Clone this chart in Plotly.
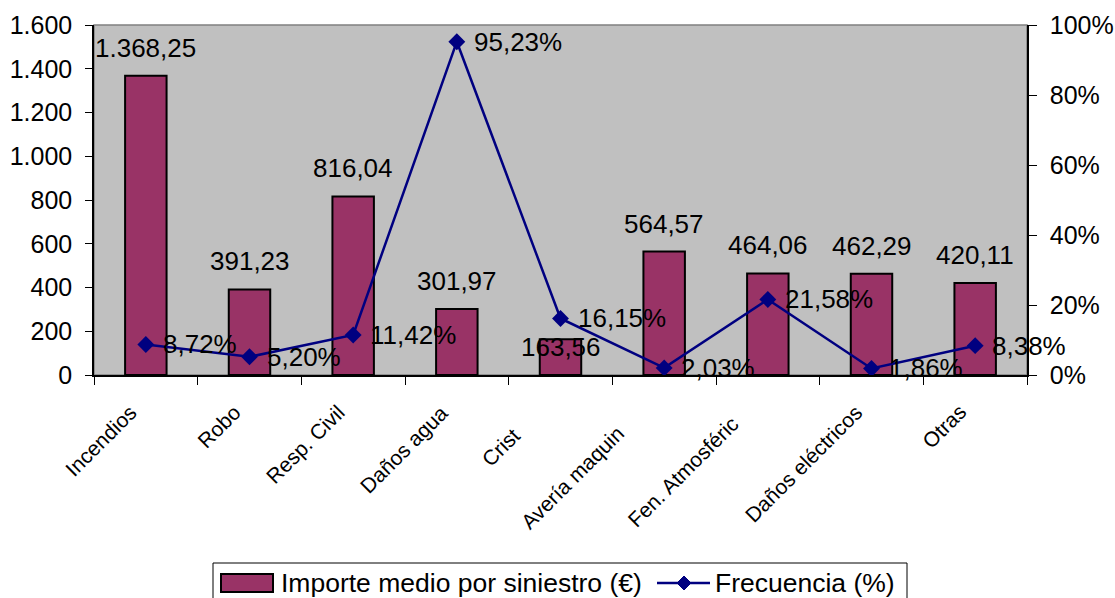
import plotly.graph_objects as go

# Average claim cost and frequency by coverage type
categories = ["Incendios", "Robo", "Resp. Civil", "Daños agua", "Crist",
              "Avería maquin", "Fen. Atmosféric", "Daños eléctricos", "Otras"]
importe_medio = [1368.25, 391.23, 816.04, 301.97, 163.56, 564.57, 464.06, 462.29, 420.11]
frecuencia = [8.72, 5.20, 11.42, 95.23, 16.15, 2.03, 21.58, 1.86, 8.38]

left_ticks = [0, 200, 400, 600, 800, 1000, 1200, 1400, 1600]
right_ticks = [0, 20, 40, 60, 80, 100]
right_tick_labels = ["0%", "20%", "40%", "60%", "80%", "100%"]

series_names = ["Importe medio por siniestro (€)", "Frecuencia (%)"]

BAR_COLOR = "#993366"
LINE_COLOR = "#000080"
FONT = "Liberation Sans, Arial, sans-serif"

W, H = 1115, 598
L, R, T, B = 94, 88, 25, 223
PW, PH = W - L - R, H - T - B


def es_number(v):
    s = f"{v:,.2f}"
    return s.replace(",", "X").replace(".", ",").replace("X", ".")


def es_percent(v):
    return f"{v:.2f}".replace(".", ",") + "%"


def px_x(px):
    return (px - L) / PW


def px_y(py):
    return (H - B - py) / PH


fig = go.Figure()

fig.add_trace(go.Bar(
    x=categories, y=importe_medio, name=series_names[0],
    marker=dict(color=BAR_COLOR, line=dict(color="black", width=2)),
    hoverinfo="skip", showlegend=False,
))

fig.add_trace(go.Scatter(
    x=categories, y=frecuencia, name=series_names[1], yaxis="y2",
    mode="lines+markers",
    line=dict(color=LINE_COLOR, width=2.5),
    marker=dict(symbol="diamond", size=13, color=LINE_COLOR),
    hoverinfo="skip", showlegend=False, cliponaxis=False,
))

annotations = []

# value labels above the bars (one label is placed lower, over its bar)
bar_label_shift = {"Crist": -8}
for c, v in zip(categories, importe_medio):
    annotations.append(dict(
        x=c, y=v, xref="x", yref="y", text=es_number(v), showarrow=False,
        xanchor="center", yanchor="middle", yshift=bar_label_shift.get(c, 28),
        font=dict(family=FONT, size=26, color="black"),
    ))

# percentage labels to the right of each point
for c, p in zip(categories, frecuencia):
    annotations.append(dict(
        x=c, y=p, xref="x", yref="y2", text=es_percent(p), showarrow=False,
        xanchor="left", yanchor="middle", xshift=15,
        font=dict(family=FONT, size=26, color="black"),
    ))

# rotated category labels
cat_label_offset = {
    "Crist": (-34, -46),
    "Avería maquin": (-33, -44),
    "Fen. Atmosféric": (-22, -34),
}
for c in categories:
    dx, dy = cat_label_offset.get(c, (-2, -23))
    annotations.append(dict(
        x=c, y=0, xref="x", yref="paper", text=c, showarrow=False,
        textangle=-45, xanchor="right", yanchor="top",
        xshift=dx, yshift=dy,
        font=dict(family=FONT, size=21, color="black"),
    ))

# legend box contents
leg_y = 583
annotations.append(dict(
    x=px_x(279), y=px_y(leg_y), xref="paper", yref="paper",
    text=series_names[0], showarrow=False, xanchor="left", yanchor="middle",
    font=dict(family=FONT, size=26.5, color="black"),
))
annotations.append(dict(
    x=px_x(713), y=px_y(leg_y), xref="paper", yref="paper",
    text=series_names[1], showarrow=False, xanchor="left", yanchor="middle",
    font=dict(family=FONT, size=26.5, color="black"),
))

dcx, dhw, dhh = 684, 7, 7
diamond_path = (
    f"M {px_x(dcx - dhw)} {px_y(leg_y)} L {px_x(dcx)} {px_y(leg_y - dhh)} "
    f"L {px_x(dcx + dhw)} {px_y(leg_y)} L {px_x(dcx)} {px_y(leg_y + dhh)} Z"
)

shapes = [
    # plot area frame
    dict(type="rect", xref="paper", yref="paper", x0=0, x1=1, y0=0, y1=1,
         line=dict(color="#808080", width=1.5), layer="below"),
    # legend frame
    dict(type="rect", xref="paper", yref="paper",
         x0=px_x(213), x1=px_x(907), y0=px_y(610), y1=px_y(563),
         line=dict(color="black", width=1), fillcolor="white"),
    # bar swatch
    dict(type="rect", xref="paper", yref="paper",
         x0=px_x(221), x1=px_x(273), y0=px_y(592), y1=px_y(574),
         line=dict(color="black", width=2), fillcolor=BAR_COLOR),
    # line swatch
    dict(type="line", xref="paper", yref="paper",
         x0=px_x(657), x1=px_x(710), y0=px_y(leg_y), y1=px_y(leg_y),
         line=dict(color=LINE_COLOR, width=2.5)),
    dict(type="path", xref="paper", yref="paper", path=diamond_path,
         fillcolor=LINE_COLOR, line=dict(color=LINE_COLOR, width=1)),
]

fig.update_layout(
    width=W, height=H,
    margin=dict(l=L, r=R, t=T, b=B, autoexpand=False),
    paper_bgcolor="white", plot_bgcolor="#C0C0C0",
    separators=",.",
    bargap=0.6,
    font=dict(family=FONT, size=25, color="black"),
    showlegend=False,
    xaxis=dict(
        type="category", range=[-0.5, len(categories) - 0.5],
        showticklabels=False, ticks="outside",
        tickson="boundaries", ticklen=8, tickcolor="black", tickwidth=1,
        showline=True, linecolor="black", linewidth=1.5,
        showgrid=False, zeroline=False, fixedrange=True,
    ),
    yaxis=dict(
        range=[0, 1600], tickmode="array", tickvals=left_ticks, tickformat=",.0f",
        ticks="outside", ticklen=7, tickcolor="black", tickwidth=1,
        ticklabelstandoff=8,
        showline=True, linecolor="black", linewidth=1.5,
        showgrid=False, zeroline=False,
        tickfont=dict(family=FONT, size=25, color="black"),
    ),
    yaxis2=dict(
        range=[0, 100], tickmode="array", tickvals=right_ticks,
        ticktext=right_tick_labels,
        overlaying="y", side="right",
        ticks="outside", ticklen=8, tickcolor="black", tickwidth=1,
        ticklabelstandoff=8,
        showline=True, linecolor="black", linewidth=1.5,
        showgrid=False, zeroline=False,
        tickfont=dict(family=FONT, size=25, color="black"),
    ),
    annotations=annotations,
    shapes=shapes,
)

fig.write_html("out.html")
